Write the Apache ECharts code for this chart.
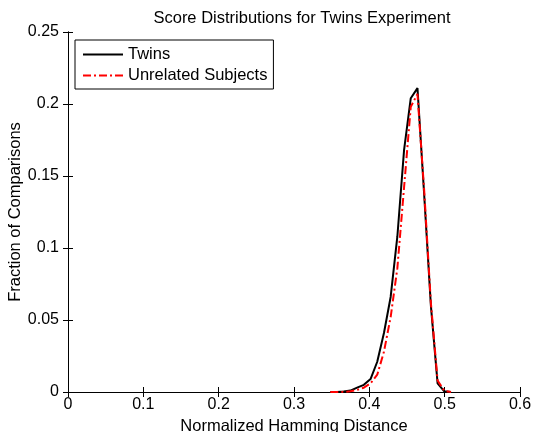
<!DOCTYPE html>
<html>
<head>
    <meta charset="utf-8">
    <script src="https://cdn.jsdelivr.net/npm/echarts@6/dist/echarts.min.js"></script>
</head>
<body style="margin:0">
<div id="main" style="width: 534px;height:432px;"></div>

<script type="text/javascript">
    // histogram bin centres (normalized hamming distance)
    var bins = [0.3482, 0.3571, 0.3660, 0.3749, 0.3838, 0.3927, 0.4016, 0.4105, 0.4194,
        0.4283, 0.4372, 0.4461, 0.4550, 0.4639, 0.4728, 0.4817, 0.4906, 0.4995, 0.5084];
    var twins = [0, 0, 0.0003, 0.001, 0.003, 0.005, 0.009, 0.021, 0.041,
        0.066, 0.108, 0.168, 0.204, 0.211, 0.137, 0.060, 0.006, 0.0005, 0];
    var unrelated = [0, 0, 0.0001, 0.0005, 0.0015, 0.003, 0.006, 0.012, 0.028,
        0.052, 0.086, 0.142, 0.198, 0.207, 0.140, 0.062, 0.008, 0.0008, 0];
    var xTicks = [0, 0.1, 0.2, 0.3, 0.4, 0.5, 0.6];
    var yTicks = [0, 0.05, 0.1, 0.15, 0.2, 0.25];

    function pairs(ys) {
        return bins.map(function (x, i) { return [x, ys[i]]; });
    }

    var font = 'Liberation Sans, Arial, Helvetica, sans-serif';
    var myChart = echarts.init(document.getElementById('main'));

    var xBase = {
        type: 'value',
        min: xTicks[0],
        max: xTicks[xTicks.length - 1],
        interval: xTicks[1] - xTicks[0],
        axisLine: { lineStyle: { color: '#000', width: 1 } },
        axisTick: { inside: true, length: 5, lineStyle: { color: '#000' } },
        splitLine: { show: false }
    };
    var yBase = {
        type: 'value',
        min: yTicks[0],
        max: yTicks[yTicks.length - 1],
        interval: yTicks[1] - yTicks[0],
        axisLine: { show: true, lineStyle: { color: '#000', width: 1 } },
        axisTick: { show: true, inside: true, length: 5, lineStyle: { color: '#000' } },
        splitLine: { show: false }
    };

    var option = {
        animation: false,
        textStyle: { fontFamily: font },
        title: {
            text: 'Score Distributions for Twins Experiment',
            left: 297,
            textAlign: 'center',
            top: 5,
            textStyle: { fontSize: 16.5, fontWeight: 'normal', color: '#000', fontFamily: font }
        },
        grid: { left: 68, right: 14, top: 32, bottom: 40, outerBoundsMode: 'none', containLabel: false },
        legend: {
            orient: 'vertical',
            left: 75,
            top: 40,
            padding: [6, 6, 5, 7],
            itemWidth: 40,
            itemHeight: 16,
            itemGap: 4,
            itemStyle: { opacity: 0 },
            backgroundColor: '#fff',
            borderColor: '#000',
            borderWidth: 1,
            textStyle: { fontSize: 16.5, color: '#000', fontFamily: font }
        },
        xAxis: [
            Object.assign({}, xBase, {
                position: 'bottom',
                name: 'Normalized Hamming Distance',
                nameLocation: 'middle',
                nameGap: 26,
                nameMoveOverlap: false,
                nameTextStyle: { fontSize: 16.5, color: '#000' },
                axisLabel: { fontSize: 16, color: '#000', margin: 5 }
            }),
            Object.assign({}, xBase, { position: 'top', axisLabel: { show: false } })
        ],
        yAxis: [
            Object.assign({}, yBase, {
                position: 'left',
                name: 'Fraction of Comparisons',
                nameLocation: 'middle',
                nameGap: 44,
                nameMoveOverlap: false,
                nameTextStyle: { fontSize: 16.5, color: '#000' },
                axisLabel: { fontSize: 16, color: '#000', margin: 9 }
            }),
            Object.assign({}, yBase, { position: 'right', axisLabel: { show: false } })
        ],
        series: [
            {
                name: 'Twins',
                type: 'line',
                symbol: 'none',
                data: pairs(twins),
                itemStyle: { color: '#000' },
                lineStyle: { color: '#000', width: 2 }
            },
            {
                name: 'Unrelated Subjects',
                type: 'line',
                symbol: 'none',
                data: pairs(unrelated),
                itemStyle: { color: '#ff0000' },
                lineStyle: { color: '#ff0000', width: 2, type: [8, 3, 2, 3] }
            }
        ]
    };

    myChart.setOption(option);
</script>
</body>
</html>
